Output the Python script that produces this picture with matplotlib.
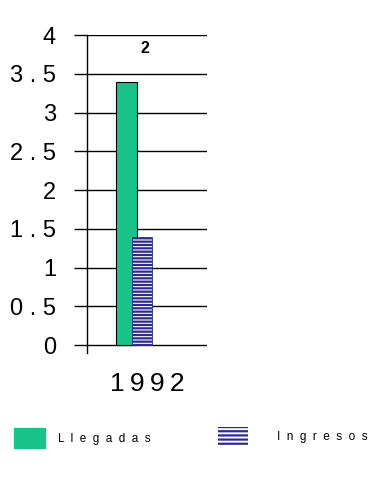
import matplotlib
matplotlib.use("Agg")
import matplotlib.pyplot as plt
from matplotlib.patches import Patch
from matplotlib.ticker import FuncFormatter

categories = ["1992"]
llegadas = [3.4]
ingresos = [1.4]
yticks = [0, 0.5, 1, 1.5, 2, 2.5, 3, 3.5, 4]
annot = "2"
series_names = ["Llegadas", "Ingresos"]

FONT = ["Liberation Sans", "DejaVu Sans"]
plt.rcParams['font.family'] = FONT
plt.rcParams['hatch.linewidth'] = 1.6

fig = plt.figure(figsize=(3.84, 4.8), dpi=100)
ax = fig.add_axes([87 / 384, 1 - 353 / 480, 120 / 384, 318 / 480])

x = list(range(len(categories)))
green = "#1ac38a"
navy = "#2b2b8f"
ax.bar([i - 0.171 for i in x], llegadas, width=0.175, color=green,
       edgecolor="black", linewidth=0.8, zorder=3)
ax.bar([i - 0.042 for i in x], ingresos, width=0.167, color="white",
       edgecolor=navy, hatch="-----", linewidth=0.6, zorder=4)

ax.set_xlim(-0.5, 0.5)
ax.set_ylim(-0.103, 4)
ax.set_yticks(yticks)
ax.yaxis.set_major_formatter(FuncFormatter(
    lambda v, p: " ".join(("%g" % v))))
ax.tick_params(axis="y", length=9.4, width=1, labelsize=17, pad=13,
               colors="black")
ax.set_xticks(x)
ax.set_xticklabels(["\u2009".join(c) for c in categories])
ax.tick_params(axis="x", length=0, labelsize=19, pad=14)

ax.yaxis.grid(True, color="black", linewidth=1, zorder=1)
for s in ["top", "right", "bottom"]:
    ax.spines[s].set_visible(False)
ax.spines["left"].set_linewidth(1)

ax.text(-0.017, 3.82, annot, ha="center", va="center", fontsize=11.5,
        fontweight="bold")

h1 = Patch(facecolor=green, edgecolor=green)
h2 = Patch(facecolor="white", edgecolor=navy, hatch="----", linewidth=0)
fs = 8.5
leg1 = fig.legend([h1], ["  ".join(series_names[0])], loc="center left",
                  bbox_to_anchor=(14 / 384, 1 - 438 / 480), frameon=False,
                  fontsize=fs, handlelength=2.65, handleheight=2.1,
                  handletextpad=1.1, borderpad=0, borderaxespad=0)
leg2 = fig.legend([h2], ["  ".join(series_names[1])], loc="center left",
                  bbox_to_anchor=(218 / 384, 1 - 436 / 480), frameon=False,
                  fontsize=fs, handlelength=2.5, handleheight=2.0,
                  handletextpad=2.5, borderpad=0, borderaxespad=0)

fig.savefig("out.png", dpi=100)
